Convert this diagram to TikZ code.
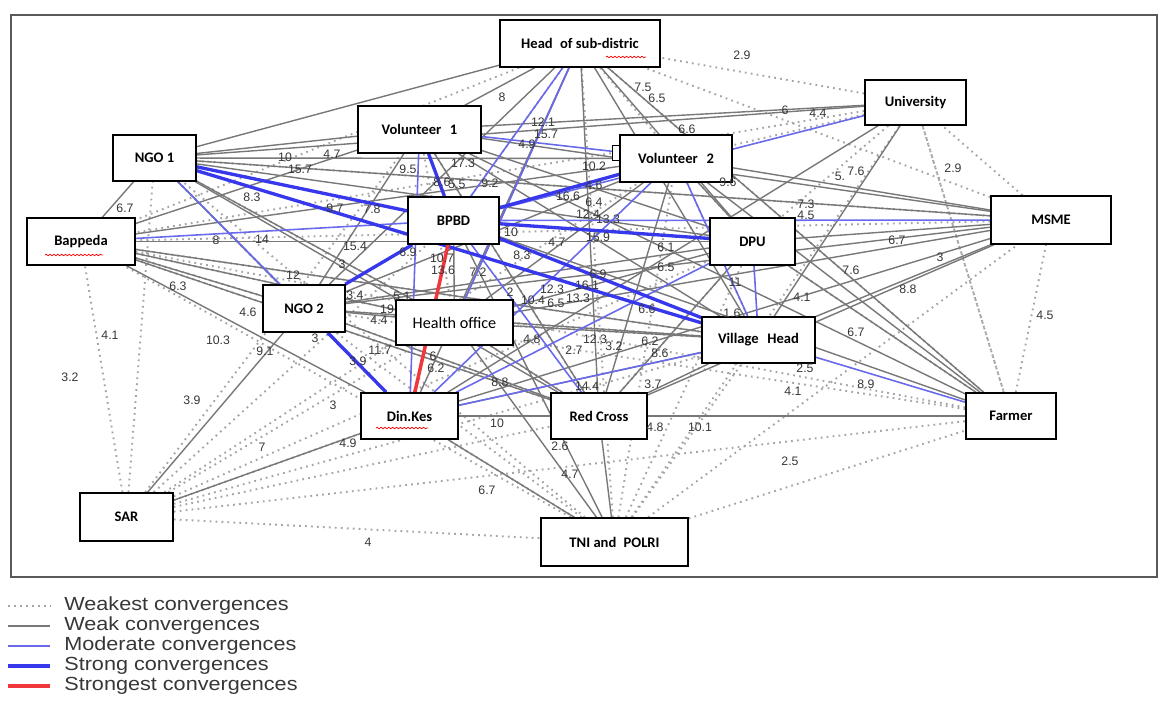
\documentclass[tikz,border=0pt]{standalone}
\usepackage{fontspec}
\setmainfont{Carlito}
\newfontfamily\arialf{Liberation Sans}
\usetikzlibrary{backgrounds,decorations.pathmorphing}
\definecolor{weakc}{RGB}{120,120,120}
\definecolor{dotc}{RGB}{165,165,165}
\definecolor{modc}{RGB}{105,105,235}
\definecolor{strc}{RGB}{55,55,235}
\definecolor{redc}{RGB}{240,55,60}
\definecolor{numc}{RGB}{55,55,55}
\begin{document}
\begin{tikzpicture}[x=0.02cm,y=-0.02cm,
  box/.style={draw=black,line width=0.9pt,fill=white,inner sep=0pt,font=\bfseries\fontsize{8.3}{10}\selectfont},
  weakest/.style={draw=dotc,line width=1.1pt,dash pattern=on 1pt off 2.4pt},
  weak/.style={draw=weakc,line width=0.8pt},
  moderate/.style={draw=modc,line width=0.9pt},
  strong/.style={draw=strc,line width=1.9pt},
  strongest/.style={draw=redc,line width=2pt},
  num/.style={font=\arialf\fontsize{7}{8}\selectfont,text=numc,inner sep=0pt},
  legtxt/.style={font=\arialf\fontsize{10.8}{12}\selectfont,text=numc,anchor=west,inner sep=0pt},
  squig/.style={draw=red,line width=0.4pt,decorate,decoration={snake,amplitude=0.45pt,segment length=2.2pt}}]
\useasboundingbox (0,0) rectangle (1166,700);

% hidden small box behind Volunteer 2
\node[box,minimum width=0.26cm,minimum height=0.3cm] (V2b) at (619,153) {};
% nodes
\node[box,minimum width=3.2cm,minimum height=0.94cm] (H) at (580,43.5) {Head\hspace{0.5em}of sub-distric};
\node[box,minimum width=2.02cm,minimum height=0.9cm] (U) at (915.5,102.5) {University};
\node[box,minimum width=2.46cm,minimum height=0.94cm] (V1) at (419.5,129.5) {Volunteer\hspace{0.6em}1};
\node[box,minimum width=1.66cm,minimum height=0.92cm] (N1) at (154.5,158) {NGO 1};
\node[box,minimum width=2.24cm,minimum height=0.94cm] (V2) at (676,158.5) {Volunteer\hspace{0.6em}2};
\node[box,minimum width=2.4cm,minimum height=0.96cm] (M) at (1051,220) {MSME};
\node[box,minimum width=2.16cm,minimum height=0.94cm] (B) at (81,241.5) {Bappeda};
\node[box,minimum width=1.82cm,minimum height=0.94cm] (P) at (453.5,220.5) {BPBD};
\node[box,minimum width=1.7cm,minimum height=0.94cm] (D) at (752.5,241.5) {DPU};
\node[box,minimum width=1.64cm,minimum height=0.94cm] (N2) at (304,308.5) {NGO 2};
\node[box,minimum width=2.34cm,minimum height=0.9cm,font=\fontsize{9.2}{11}\selectfont] (HO) at (454.5,322.5) {Health office\hspace{1.2em}};
\node[box,minimum width=2.26cm,minimum height=0.92cm] (VH) at (758.5,340) {Village\hspace{0.6em}Head};
\node[box,minimum width=1.8cm,minimum height=0.92cm] (F) at (1011,416) {Farmer};
\node[box,minimum width=1.94cm,minimum height=0.92cm] (K) at (409.5,416) {Din.Kes\hspace{0.8em}};
\node[box,minimum width=1.92cm,minimum height=0.92cm] (R) at (599,416) {Red Cross};
\node[box,minimum width=1.86cm,minimum height=0.96cm] (S) at (126.5,517) {SAR};
\node[box,minimum width=2.94cm,minimum height=0.96cm] (T) at (614.5,542) {TNI and\hspace{0.5em}POLRI};

% spell-check squiggles
\draw[squig] (45,255) -- (103,255);
\draw[squig] (376,428) -- (428,428);
\draw[squig] (606,57) -- (646,57);

\begin{scope}[on background layer]
\draw[draw=black!65,line width=1.4pt] (11,15) rectangle (1157,577);
\foreach \a/\b in {S/B,S/N1,S/V1,S/P,S/HO,S/K,S/R,S/VH,S/F,S/T,S/D,S/V2,
  T/B,T/N1,T/K,T/VH,T/F,T/D,T/H,T/M,T/U,T/N2,T/V2,
  F/M,F/U,F/H,F/D,F/N2,F/B,M/U,M/H,M/B,M/N1,
  U/H,U/V2,U/D,U/F,U/B,H/P,H/V2,H/B,
  N1/N2,B/N2,B/R,N1/K,V1/HO,N2/R,HO/R,V1/R,B/HO,N1/HO,V2/D,V2/VH,HO/VH,N2/VH,B/VH,D/R}
  \draw[weakest] (\a) -- (\b);
\foreach \a/\b in {H/N1,H/V1,H/N2,H/HO,H/D,H/VH,H/F,H/R,H/K,
  U/V1,U/K,U/VH,U/N1,
  N1/B,N1/V1,N1/V2,N1/D,N1/M,N1/HO,N1/R,N1/K,
  V1/M,V1/D,V1/VH,V1/R,V1/N2,V1/F,
  B/V1,B/V2,B/D,B/N2,B/HO,B/VH,B/K,B/R,
  V2/M,V2/D,V2/HO,V2/R,V2/F,V2/N2,
  M/D,M/VH,M/R,M/K,M/HO,M/N2,
  P/HO,P/F,P/T,D/F,D/HO,D/R,D/N2,
  N2/HO,N2/VH,N2/R,N2/S,HO/VH,HO/R,HO/T,
  VH/R,VH/K,F/R,F/K,K/R,K/T,K/S,R/T}
  \draw[weak] (\a) -- (\b);
\foreach \a/\b in {H/P,H/HO,V1/V2,U/P,B/P,P/M,N1/N2,V1/K,P/R,K/V2,K/D,K/VH,D/VH,V2/VH,VH/F}
  \draw[moderate] (\a) -- (\b);
\foreach \a/\b in {N1/P,N1/VH,V1/P,P/V2,P/D,P/VH,P/N2,N2/K}
  \draw[strong] (\a) -- (\b);
\draw[strongest] (P) -- (K);
\end{scope}

% edge weights
\foreach \x/\y/\t [count=\i] in {742/55/2.9,643/87/7.5,657/98/6.5,502/97/8,785/110/6,818/113/4.4,
 543/122/12.1,546/134/15.7,527/144/4.9,687/129/6.6,285/157/10,332/154/4.7,300/169/15.7,
 408/169/9.5,463/163/17.3,442/182/8.6,457/184/5.5,490/183/9.2,594/166/10.2,594/185/4.6,
 568/196/16.6,594/202/6.4,588/214/12.4,608/219/13.3,728/182/9.6,840/176/5.,856/171/7.6,
 953/168/2.9,806/204/7.3,806/215/4.5,252/197/8.3,335/208/9.7,372/209/7.8,125/208/6.7,
 216/240/8,262/239/14,355/246/15.4,511/232/10,557/242/4.7,598/237/15.9,666/247/6.1,
 897/240/6.7,851/270/7.6,940/257/3,908/289/8.8,1045/315/4.5,342/264/3,408/252/6.9,
 442/258/10.7,443/270/13.6,478/272/7.2,522/255/8.3,666/267/6.5,598/274/6.9,587/285/16.1,
 735/282/11,802/297/4.1,510/292/2,552/289/12.3,578/298/13.3,556/303/6.5,533/300/10.4,
 647/309/6.6,732/313/1.6,293/275/12,178/286/6.3,248/312/4.6,355/295/3.4,402/296/5.1,
 387/309/19,379/320/4.4,315/338/3,110/335/4.1,70/377/3.2,218/340/10.3,265/351/9.1,
 380/350/11.7,358/361/3.9,433/356/6,436/368/6.2,532/339/4.8,574/350/2.7,595/339/12.3,
 614/346/3.2,650/341/6.2,660/353/8.6,500/382/8.8,587/386/14.4,653/384/3.7,856/332/6.7,
 805/368/2.5,793/391/4.1,866/384/8.9,192/400/3.9,333/405/3,497/423/10,655/427/4.8,
 700/427/10.1,262/447/7,348/443/4.9,560/446/2.6,570/474/4.7,790/461/2.5,487/490/6.7,368/542/4}
 \node[num] (w\i) at (\x,\y) {\t};

% legend
\coordinate (la1) at (8,606); \coordinate (lb1) at (50,606);
\coordinate (la2) at (8,626); \coordinate (lb2) at (50,626);
\coordinate (la3) at (8,646); \coordinate (lb3) at (50,646);
\coordinate (la4) at (8,666); \coordinate (lb4) at (50,666);
\coordinate (la5) at (8,686); \coordinate (lb5) at (50,686);
\draw[weakest] (la1) -- (lb1);
\draw[weak] (la2) -- (lb2);
\draw[moderate] (la3) -- (lb3);
\draw[strong] (la4) -- (lb4);
\draw[strongest] (la5) -- (lb5);
\node[legtxt] (lt1) at (64,606) {\scalebox{1.14}[1]{Weakest convergences}};
\node[legtxt] (lt2) at (64,626) {\scalebox{1.14}[1]{Weak convergences}};
\node[legtxt] (lt3) at (64,646) {\scalebox{1.14}[1]{Moderate convergences}};
\node[legtxt] (lt4) at (64,666) {\scalebox{1.14}[1]{Strong convergences}};
\node[legtxt] (lt5) at (64,686) {\scalebox{1.14}[1]{Strongest convergences}};
\end{tikzpicture}
\end{document}
